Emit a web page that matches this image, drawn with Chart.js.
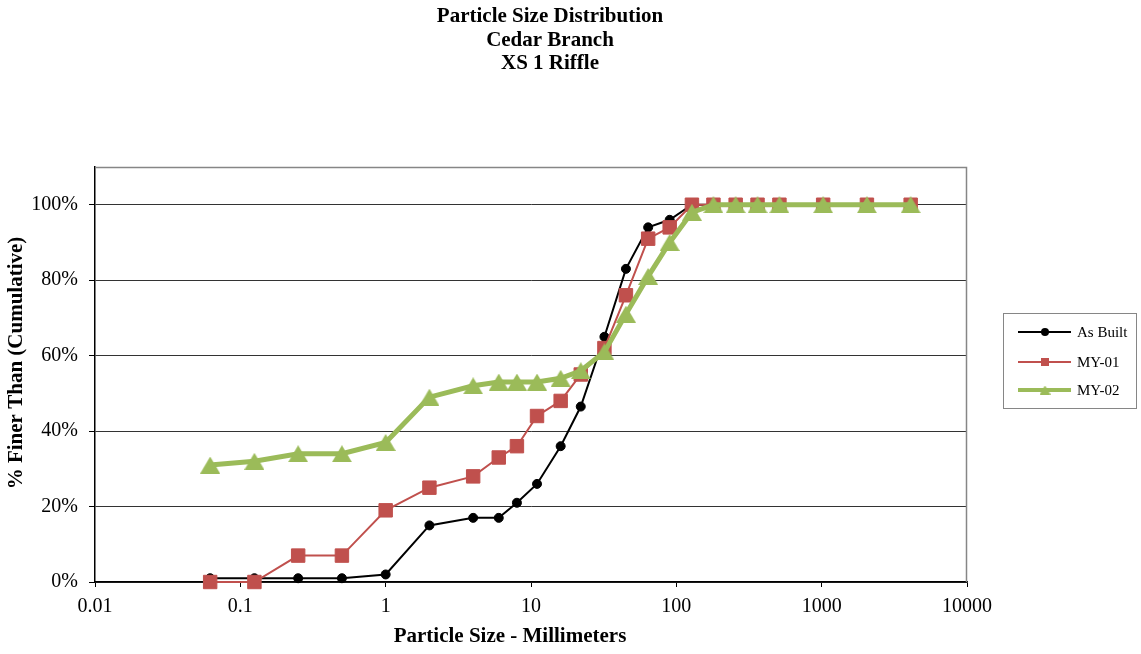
<!doctype html>
<html lang="en">

<head>
    <meta charset="utf-8">
    <title>Particle Size Distribution - Cedar Branch XS 1 Riffle</title>
    <style>
        * {
            margin: 0;
            padding: 0;
        }

        body {
            background: white;
        }

        .chartBox {
            width: 1141px;
            height: 654px;
        }
    </style>
</head>

<body>
    <div class="chartBox">
        <canvas id="psdChart"></canvas>
    </div>
    <script src="https://cdn.jsdelivr.net/npm/chart.js"></script>
    <script>
        // data (particle size in mm, percent finer)
        const sizes = [0.062, 0.125, 0.25, 0.5, 1, 2, 4, 6, 8, 11, 16, 22, 32, 45, 64, 90, 128, 180, 256, 362, 512, 1024, 2048, 4096];
        const asBuilt = [1, 1, 1, 1, 2, 15, 17, 17, 21, 26, 36, 46.5, 65, 83, 94, 96, 100, 100, 100, 100, 100, 100, 100, 100];
        const my01 = [0, 0, 7, 7, 19, 25, 28, 33, 36, 44, 48, 55, 62, 76, 91, 94, 100, 100, 100, 100, 100, 100, 100, 100];
        const my02 = [31, 32, 34, 34, 37, 49, 52, 53, 53, 53, 54, 56, 61, 71, 81, 90, 98, 100, 100, 100, 100, 100, 100, 100];
        const seriesNames = ['As Built', 'MY-01', 'MY-02'];
        const xTicks = [0.01, 0.1, 1, 10, 100, 1000, 10000];
        const yTicks = [0, 20, 40, 60, 80, 100];
        const titleLines = ['Particle Size Distribution', 'Cedar Branch', 'XS 1 Riffle'];

        const serif = '"Liberation Serif", "Times New Roman", serif';
        const BLACK = '#000000';
        const RED = '#C0504D';
        const GREEN = '#9BBB59';

        // triangle marker centred on its box, like the spreadsheet one
        function makeTriangle(w, h, color) {
            const c = document.createElement('canvas');
            c.width = w;
            c.height = h;
            const g = c.getContext('2d');
            g.fillStyle = color;
            g.beginPath();
            g.moveTo(w / 2, 0);
            g.lineTo(w, h);
            g.lineTo(0, h);
            g.closePath();
            g.fill();
            return c;
        }
        const bigTri = makeTriangle(20, 17, GREEN);
        const smallTri = makeTriangle(11, 9, GREEN);

        const toPoints = (vals) => vals.map((v, i) => ({ x: sizes[i], y: v }));

        const data = {
            datasets: [{
                label: seriesNames[0],
                data: toPoints(asBuilt),
                borderColor: BLACK,
                backgroundColor: BLACK,
                borderWidth: 2,
                pointStyle: 'circle',
                pointRadius: 4.5,
                pointBorderWidth: 1,
                clip: false,
                order: 3
            }, {
                label: seriesNames[1],
                data: toPoints(my01),
                borderColor: RED,
                backgroundColor: RED,
                borderWidth: 2,
                pointStyle: 'rect',
                pointRadius: 9.5,
                pointBorderWidth: 1,
                clip: false,
                order: 2
            }, {
                label: seriesNames[2],
                data: toPoints(my02),
                borderColor: GREEN,
                backgroundColor: GREEN,
                borderWidth: 5,
                pointStyle: bigTri,
                pointRadius: 10,
                clip: false,
                order: 1
            }]
        };

        // titles, plot frame and legend box
        const decorations = {
            id: 'decorations',
            beforeDatasetsDraw(chart) {
                const { ctx, chartArea: a } = chart;
                ctx.save();
                ctx.strokeStyle = '#868686';
                ctx.lineWidth = 1.5;
                ctx.beginPath();
                ctx.moveTo(a.left, a.top + 0.5);
                ctx.lineTo(a.right - 0.5, a.top + 0.5);
                ctx.lineTo(a.right - 0.5, a.bottom);
                ctx.stroke();
                ctx.restore();
            },
            afterDraw(chart) {
                const ctx = chart.ctx;
                ctx.save();
                ctx.fillStyle = '#000';
                ctx.textAlign = 'center';
                ctx.textBaseline = 'middle';
                ctx.font = 'bold 21px ' + serif;
                const rows = [17, 41, 64];
                titleLines.forEach((t, i) => ctx.fillText(t, 550, rows[i]));

                ctx.fillText('Particle Size - Millimeters', 510, 637);

                ctx.save();
                ctx.translate(17, 363);
                ctx.rotate(-Math.PI / 2);
                ctx.fillText('% Finer Than (Cumulative)', 0, 0);
                ctx.restore();

                // legend
                ctx.strokeStyle = '#868686';
                ctx.lineWidth = 1;
                ctx.strokeRect(1003.5, 313.5, 133, 95);
                const ly = [332, 362, 390];
                ctx.font = '15px ' + serif;
                ctx.textAlign = 'left';
                chart.data.datasets.forEach((ds, i) => {
                    const y = ly[i];
                    ctx.strokeStyle = ds.borderColor;
                    ctx.lineWidth = i === 2 ? 4 : 2;
                    ctx.beginPath();
                    ctx.moveTo(1018, y);
                    ctx.lineTo(1071, y);
                    ctx.stroke();
                    ctx.fillStyle = ds.backgroundColor;
                    if (i === 0) {
                        ctx.beginPath();
                        ctx.arc(1045, y, 4, 0, Math.PI * 2);
                        ctx.fill();
                    } else if (i === 1) {
                        ctx.fillRect(1041, y - 4, 8, 8);
                    } else {
                        ctx.drawImage(smallTri, 1045 - smallTri.width / 2, y - smallTri.height / 2);
                    }
                    ctx.fillStyle = '#000';
                    ctx.fillText(ds.label, 1077, y + 1);
                });
                ctx.restore();
            }
        };

        const config = {
            type: 'line',
            data: data,
            options: {
                responsive: true,
                maintainAspectRatio: false,
                animation: false,
                layout: {
                    padding: { top: 167, right: 174, left: 0, bottom: 0 }
                },
                plugins: {
                    legend: { display: false },
                    title: { display: false },
                    tooltip: { enabled: false }
                },
                scales: {
                    x: {
                        type: 'logarithmic',
                        min: 0.01,
                        max: 10000,
                        afterBuildTicks: (scale) => {
                            scale.ticks = xTicks.map(v => ({ value: v }));
                        },
                        afterFit: (scale) => {
                            scale.height = 72;
                        },
                        ticks: {
                            callback: (v) => String(v),
                            color: '#000',
                            padding: 8,
                            maxRotation: 0,
                            autoSkip: false,
                            font: { family: serif, size: 20 }
                        },
                        grid: {
                            drawOnChartArea: false,
                            drawTicks: true,
                            tickLength: 5,
                            tickColor: '#000'
                        },
                        border: { display: true, color: '#000', width: 1.5 }
                    },
                    y: {
                        type: 'linear',
                        min: 0,
                        max: 110,
                        afterBuildTicks: (scale) => {
                            scale.ticks = yTicks.map(v => ({ value: v }));
                        },
                        afterFit: (scale) => {
                            scale.width = 95;
                        },
                        ticks: {
                            callback: (v) => v + '%',
                            color: '#000',
                            padding: 11,
                            font: { family: serif, size: 20 }
                        },
                        grid: {
                            color: '#333',
                            lineWidth: 1,
                            tickLength: 6,
                            tickColor: '#000'
                        },
                        border: { display: true, color: '#000', width: 1.5 }
                    }
                }
            },
            plugins: [decorations]
        };

        const psdChart = new Chart(document.getElementById('psdChart'), config);
    </script>
</body>

</html>
